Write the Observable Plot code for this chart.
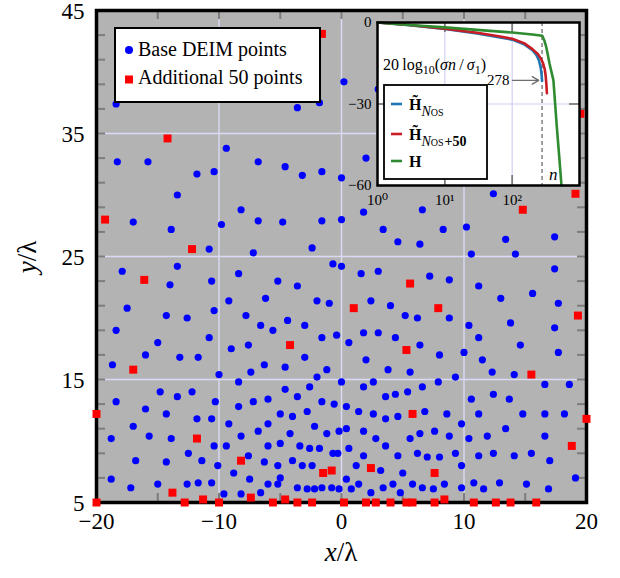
<!DOCTYPE html>
<html>
<head>
<meta charset="utf-8">
<script src="https://cdn.jsdelivr.net/npm/d3@7"></script>
<script src="https://cdn.jsdelivr.net/npm/@observablehq/plot@0.6"></script>
<style>
  html, body { margin: 0; padding: 0; background: #fff; }
  #chart { position: relative; width: 620px; height: 578px; }
  #chart svg { position: absolute; top: 0; left: 0; }
</style>
</head>
<body>
<div id="chart"></div>
<script>
// ---- Main scatter: DEIM sample locations in the (x/λ, y/λ) plane ----
const baseDEIM = [
  [-18.4,37.4],[0.2,39.2],[-3.6,37.1],[-1.8,37.5],[3.0,38.6],
  [-18.3,32.7],[-15.8,32.7],[-9.4,33.8],[-11.8,31.7],[-10.4,31.9],[-6.8,32.7],[-4.6,32.3],[-3.2,31.6],[-1.6,31.9],[0.0,31.4],[-13.4,30.0],[2.0,33.0],[12.4,30.1],
  [0.0,28.0],[1.8,28.6],[6.6,28.8],[3.4,27.2],[4.6,26.2],[6.4,26.0],[8.3,27.2],[10.2,27.4],[13.4,26.4],[17.4,26.6],[10.6,25.2],[14.2,25.2],
  [-0.7,24.4],[0.0,24.2],[1.6,23.6],[3.0,23.8],[17.4,24.0],[7.2,23.4],[8.8,23.1],[11.2,22.6],[13.0,21.6],[15.6,22.0],[17.7,21.2],
  [2.4,21.4],[4.0,21.0],[5.2,20.2],[6.2,20.0],[8.8,20.0],[10.4,19.4],[13.8,19.6],[17.4,19.2],
  [-0.4,18.6],[0.6,18.0],[1.8,18.8],[3.0,18.8],[4.4,18.4],[6.4,17.8],[11.2,18.4],[14.6,17.8],[10.0,17.2],[17.7,17.2],
  [2.0,16.6],[8.0,17.0],[11.5,16.6],[3.8,15.8],[5.6,15.6],[12.3,15.6],[14.1,15.4],[9.3,15.2],
  [0.0,14.8],[1.8,14.4],[2.6,14.8],[6.6,14.4],[7.9,14.8],[16.6,14.6],[18.6,14.6],
  [-0.6,13.0],[0.4,12.8],[3.6,13.6],[4.4,13.8],[5.4,14.0],[1.4,12.4],[2.6,12.2],[3.6,11.8],[4.6,12.0],[6.8,12.4],[8.6,12.2],
  [10.6,13.4],[12.4,13.8],[13.7,13.4],[11.2,12.2],[14.8,12.2],[16.6,12.2],[18.2,12.2],[9.8,11.4],
  [-0.2,10.8],[0.4,11.0],[1.8,10.8],[2.8,10.2],[5.6,10.2],[6.4,10.6],[7.6,10.8],[8.8,10.4],[10.4,10.2],[11.9,10.4],[13.4,11.0],[16.6,10.4],
  [0.6,9.4],[-0.7,9.0],[-0.3,9.0],[1.8,8.8],[3.6,9.6],[4.6,8.8],[6.2,9.0],[7.0,8.7],[8.0,8.7],[9.3,9.0],[11.2,8.8],[12.4,9.0],[14.1,8.8],[15.5,9.0],[17.0,8.4],
  [1.2,8.0],[3.2,7.6],[5.0,7.4],[9.8,8.0],[19.1,7.0],
  [0.4,6.9],[1.4,6.5],[-0.2,6.1],[0.8,6.1],[2.4,5.8],[3.4,6.2],[4.2,6.5],[4.8,5.8],[5.8,6.5],[6.6,6.2],[7.5,6.1],[8.4,6.5],[9.8,6.2],[10.8,6.6],[11.6,6.1],[12.9,6.6],[15.1,6.5],[16.9,6.1],
  [-17.0,27.8],[-13.9,27.2],[-8.2,28.8],[-9.8,27.6],[-6.8,27.9],[-4.8,27.8],[-1.6,27.9],[-10.8,25.6],[-7.2,25.3],[-2.4,25.7],
  [-17.9,23.8],[-13.4,24.2],[-8.4,23.6],[-14.0,22.7],[-10.6,23.0],[-5.2,23.0],[-3.6,22.6],
  [-17.5,20.8],[-9.2,21.4],[-6.2,21.6],[-2.0,21.4],[-1.0,21.2],[-14.3,20.2],[-12.6,20.0],[-10.4,20.6],[-7.8,20.2],[-6.6,19.4],[-5.6,19.0],[-4.4,19.8],[-3.0,19.4],
  [-18.4,19.0],[-15.0,18.0],[-10.8,18.4],[-9.0,17.5],[-7.6,17.8],[-1.6,18.4],
  [-18.7,16.2],[-16.0,17.0],[-13.2,16.8],[-11.7,16.8],[-6.3,16.2],[-4.6,16.0],[-3.0,16.8],[-10.0,15.4],[-7.4,15.6],[-8.4,14.8],[-2.0,15.2],[-1.2,15.8],
  [-18.4,13.2],[-14.8,14.0],[-13.4,13.6],[-12.2,14.0],[-10.3,13.2],[-16.0,12.6],[-14.3,12.2],[-8.4,12.8],[-7.2,13.2],[-6.0,13.4],[-4.6,14.2],[-3.6,13.6],[-2.6,14.4],[-1.6,13.2],
  [-17.0,11.2],[-15.7,10.4],[-13.9,10.2],[-11.8,11.8],[-10.6,11.8],[-9.2,11.4],[-8.2,10.4],[-6.8,10.8],[-6.0,11.4],[-5.0,12.2],[-4.0,12.0],[-2.8,12.4],[-2.2,11.2],[-1.2,10.6],
  [-18.8,10.2],[-10.4,9.6],[-9.4,9.6],[-7.6,8.8],[-6.0,9.6],[-5.0,9.8],[-4.2,10.6],[-3.4,9.6],[-2.6,9.4],[-1.8,9.4],
  [-12.5,9.0],[-11.4,8.4],[-16.8,8.4],[-14.3,8.3],[-10.1,8.0],[-6.3,8.3],[-5.2,8.0],[-4.0,8.4],[-3.2,8.0],[-2.4,8.0],
  [-18.8,6.9],[-17.2,6.2],[-15.0,6.5],[-12.6,6.5],[-11.7,6.6],[-10.6,6.6],[-8.8,7.4],[-7.5,6.9],[-5.0,7.0],
  [-9.6,5.7],[-8.2,5.7],[-6.6,5.8],[-6.0,6.5],[-5.2,6.5],[-3.6,6.2],[-2.8,6.1],[-2.2,6.1],[-1.6,6.2],[-0.8,6.2]
];

const additionalPoints = [
  [-20,5],[-12.8,5],[-11.3,5.25],[-10.0,5],[-7.4,5.4],[-5.6,5],[-4.6,5.25],[-3.6,5],[-2.4,5],[0.2,5],[2.0,5],
  [2.8,5],[4.0,5],[5.3,5],[5.8,5],[7.6,5],[8.4,5.25],[10.8,5],[12.6,5],[13.8,5],[15.9,5],
  [-13.8,5.8],[-1.6,43.1],[19.5,36.6],[-14.2,34.6],[19.1,30.1],[14.8,28.8],[-19.3,28.0],[-12.2,25.6],[-16.1,23.1],
  [-4.2,17.8],[5.6,22.8],[1.0,20.8],[7.9,20.8],[19.3,20.2],[5.3,17.4],[-17.0,15.8],[15.5,15.4],[-20,12.2],
  [-11.8,10.2],[5.8,12.2],[20,11.8],[-8.2,8.4],[18.8,9.6],[-1.5,7.4],[-0.8,7.6],[2.4,7.8],[7.6,7.4]
];

const xTickLabels = [-20, -10, 0, 10, 20];
const yTickLabels = [5, 15, 25, 35, 45];
const xGridLines = [-10, 0, 10];
const yGridLines = [15, 25, 35];
const xMinorTicks = [-15, -10, -5, 0, 5, 10, 15];
const yMinorTicks = [7, 9, 11, 13, 15, 17, 19, 21, 23, 25, 27, 29, 31, 33, 35, 37, 39, 41, 43];

// ---- Inset: normalised singular value decay, 20 log10(σn/σ1) ----
const nReduced = [1, 3, 10, 30, 100, 150, 200, 230, 250, 265, 273, 278];
const dbReduced = [0, -1.0, -2.4, -4.0, -6.3, -8.0, -10.2, -12.0, -14.0, -16.5, -19.0, -21.5];
const nReducedPlus50 = [1, 3, 10, 30, 60, 100, 150, 200, 240, 270, 290, 305, 315, 322, 328];
const dbReducedPlus50 = [0, -0.9, -2.3, -3.8, -5.0, -6.0, -7.6, -9.8, -11.6, -13.4, -15.3, -17.3, -19.8, -22.8, -26.0];
const nFull = [1, 3, 10, 30, 100, 200, 280, 300, 322, 360, 410, 460, 500, 540];
const dbFull = [0, -0.9, -1.8, -2.7, -3.7, -4.4, -4.9, -6.6, -9.2, -15.3, -21.3, -38.3, -49.4, -60];
const insetXTicks = [1, 10, 100];
const insetXTickText = ["10\u2070", "10\u00B9", "10\u00B2"];
const insetYTicks = [0, -30, -60];
const cutoffN = 278;
const arrowSpec = {from: 101, to: 248, level: -21.3};

const SERIF = "'Liberation Serif', 'Times New Roman', 'DejaVu Serif', serif";
const fmtNum = d => d < 0 ? "\u2212" + Math.abs(d) : String(d);

const W = 620, H = 578;
const mL = 96, mR = 34, mT = 10, mB = 76;
const plotW = W - mL - mR, plotH = H - mT - mB;
const tickLen = 9, tickColor = "#7d7d7d";

const main = Plot.plot({
  width: W, height: H,
  marginLeft: mL, marginRight: mR, marginTop: mT, marginBottom: mB,
  x: {domain: [-20, 20]},
  y: {domain: [5, 45]},
  style: {fontFamily: SERIF, background: "white", color: "black"},
  marks: [
    Plot.frame({fill: "#b3b3b3", stroke: null}),
    Plot.gridX(xGridLines, {stroke: "#dadaf6", strokeOpacity: 1, strokeWidth: 1.4}),
    Plot.gridY(yGridLines, {stroke: "#dadaf6", strokeOpacity: 1, strokeWidth: 1.4}),
    Plot.tickX(xMinorTicks, {x: d => d, stroke: tickColor, strokeWidth: 2, insetTop: plotH - tickLen}),
    Plot.tickX(xMinorTicks, {x: d => d, stroke: tickColor, strokeWidth: 2, insetBottom: plotH - tickLen}),
    Plot.tickY(yMinorTicks, {y: d => d, stroke: tickColor, strokeWidth: 2, insetRight: plotW - tickLen}),
    Plot.tickY(yMinorTicks, {y: d => d, stroke: tickColor, strokeWidth: 2, insetLeft: plotW - tickLen}),
    Plot.axisX(xTickLabels, {tickSize: 0, tickPadding: 10, fontSize: 23, tickFormat: fmtNum, label: null}),
    Plot.axisY(yTickLabels, {tickSize: 0, tickPadding: 12, fontSize: 23, tickFormat: fmtNum, label: null, dy: 1.5}),
    Plot.frame({stroke: "black", strokeWidth: 3.5}),
    Plot.dot(baseDEIM, {x: d => d[0], y: d => d[1], r: 3.6, fill: "#0000ff", stroke: null}),
    Plot.dot(additionalPoints, {x: d => d[0], y: d => d[1], symbol: "square", r: 4.5, fill: "#ff0000", stroke: null})
  ]
});

// Axis titles and legend
{
  const svg = d3.select(main);
  const sx = main.scale("x");
  svg.append("text")
    .attr("x", sx.apply(0)).attr("y", 561)
    .attr("text-anchor", "middle").attr("font-family", SERIF).attr("font-size", 27)
    .call(t => { t.append("tspan").attr("font-style", "italic").text("x"); t.append("tspan").text("/\u03BB"); });
  svg.append("text")
    .attr("transform", "translate(36,257) rotate(-90)")
    .attr("text-anchor", "middle").attr("font-family", SERIF).attr("font-size", 27)
    .call(t => { t.append("tspan").attr("font-style", "italic").text("y"); t.append("tspan").text("/\u03BB"); });

  const lg = svg.append("g").attr("font-family", SERIF).attr("font-size", 20).attr("text-anchor", "start");
  lg.append("rect").attr("x", 115).attr("y", 28).attr("width", 205).attr("height", 74)
    .attr("fill", "white").attr("stroke", "black").attr("stroke-width", 2);
  lg.append("circle").attr("cx", 129).attr("cy", 50).attr("r", 4).attr("fill", "#0000ff");
  lg.append("text").attr("x", 138).attr("y", 55.5).text("Base DEIM points");
  lg.append("rect").attr("x", 125).attr("y", 75.5).attr("width", 8).attr("height", 8).attr("fill", "#ff0000");
  lg.append("text").attr("x", 138).attr("y", 83.5).text("Additional 50 points");
}

// ---- Inset plot ----
const IW = 290, IH = 230, IX = 330;
const iL = 47, iR = 41, iT = 22, iB = 45;
const iPlotW = IW - iL - iR, iPlotH = IH - iT - iB;
const rows = (ns, dbs) => ns.map((n, i) => ({n, db: dbs[i]}));

const inset = Plot.plot({
  width: IW, height: IH,
  marginLeft: iL, marginRight: iR, marginTop: iT, marginBottom: iB,
  x: {type: "log", domain: [1, 1000]},
  y: {domain: [-60, 0]},
  style: {fontFamily: SERIF, background: "transparent", color: "black", overflow: "visible"},
  marks: [
    Plot.frame({fill: "white", stroke: null}),
    Plot.gridX([10, 100], {stroke: "#d0d0f4", strokeOpacity: 1, strokeWidth: 1.2}),
    Plot.gridY([-30], {stroke: "#d0d0f4", strokeOpacity: 1, strokeWidth: 1.2}),
    Plot.tickX([10, 100], {x: d => d, stroke: tickColor, strokeWidth: 1.8, insetTop: iPlotH - 10}),
    Plot.tickX([10, 100], {x: d => d, stroke: tickColor, strokeWidth: 1.8, insetBottom: iPlotH - 10}),
    Plot.tickY([-30], {y: d => d, stroke: tickColor, strokeWidth: 1.8, insetRight: iPlotW - 10}),
    Plot.tickY([-30], {y: d => d, stroke: tickColor, strokeWidth: 1.8, insetLeft: iPlotW - 10}),
    Plot.axisX(insetXTicks, {tickSize: 0, tickPadding: 9, fontSize: 15, label: null,
      tickFormat: d => insetXTickText[insetXTicks.indexOf(d)]}),
    Plot.axisY(insetYTicks, {tickSize: 0, tickPadding: 6, fontSize: 15, label: null, tickFormat: fmtNum}),
    Plot.ruleX([cutoffN], {stroke: "#808080", strokeWidth: 1.5, strokeDasharray: "4,3"}),
    Plot.line(rows(nReduced, dbReduced), {x: "n", y: "db", stroke: "#1f77b4", strokeWidth: 2.6}),
    Plot.line(rows(nReducedPlus50, dbReducedPlus50), {x: "n", y: "db", stroke: "#c81d25", strokeWidth: 2.6}),
    Plot.line(rows(nFull, dbFull), {x: "n", y: "db", stroke: "#2e8b30", strokeWidth: 2.6}),
    Plot.arrow([arrowSpec], {x1: "from", x2: "to", y1: "level", y2: "level", stroke: "#6e6e6e", strokeWidth: 1.4, headLength: 8}),
    Plot.text([arrowSpec], {x: "from", y: "level", text: () => String(cutoffN), dx: -3, textAnchor: "end", fontSize: 15}),
    Plot.text([cutoffN], {x: d => d, y: -56, text: () => "n", dx: 7, textAnchor: "start", fontSize: 17, fontStyle: "italic"}),
    Plot.frame({stroke: "black", strokeWidth: 2.5})
  ]
});
inset.style.left = IX + "px";
inset.style.top = "0px";

{
  const svg = d3.select(inset);
  const ix = inset.scale("x"), iy = inset.scale("y");
  // curve label
  const lab = svg.append("text").attr("font-family", SERIF).attr("font-size", 16).attr("text-anchor", "start")
    .attr("x", ix.apply(1.23)).attr("y", iy.apply(-17.5));
  lab.append("tspan").text("20\u2009log");
  lab.append("tspan").attr("font-size", 12).attr("dy", 4).text("10");
  lab.append("tspan").attr("dy", -4).text("(");
  lab.append("tspan").attr("font-style", "italic").text("\u03C3n");
  lab.append("tspan").text("\u2009/\u2009");
  lab.append("tspan").attr("font-style", "italic").text("\u03C3");
  lab.append("tspan").attr("font-size", 12).attr("dy", 4).text("1");
  lab.append("tspan").attr("dy", -4).text(")");

  // legend
  const lg = svg.append("g").attr("font-family", SERIF).attr("text-anchor", "start");
  lg.append("rect").attr("x", 384 - IX).attr("y", 85).attr("width", 103).attr("height", 94)
    .attr("fill", "white").attr("stroke", "black").attr("stroke-width", 1.8);
  const entries = [
    {color: "#1f77b4", y: 104, tilde: true, extra: ""},
    {color: "#c81d25", y: 134, tilde: true, extra: "+50"},
    {color: "#2e8b30", y: 161, tilde: false, extra: null}
  ];
  for (const e of entries) {
    lg.append("line").attr("x1", 391 - IX).attr("x2", 402 - IX).attr("y1", e.y).attr("y2", e.y)
      .attr("stroke", e.color).attr("stroke-width", 2.6);
    const t = lg.append("text").attr("x", 409 - IX).attr("y", e.y + 5.5)
      .attr("font-size", 16).attr("font-weight", "bold");
    t.append("tspan").text(e.tilde ? "H\u0303" : "H");
    if (e.extra !== null) {
      t.append("tspan").attr("dy", 6).attr("font-weight", "normal").attr("font-style", "italic").attr("font-size", 14).text("N");
      t.append("tspan").attr("font-weight", "normal").attr("font-size", 10).text("OS");
      if (e.extra) t.append("tspan").attr("font-size", 14).attr("dx", 1).text(e.extra);
    }
  }
}

const chart = document.getElementById("chart");
chart.appendChild(main);
chart.appendChild(inset);
</script>
</body>
</html>
